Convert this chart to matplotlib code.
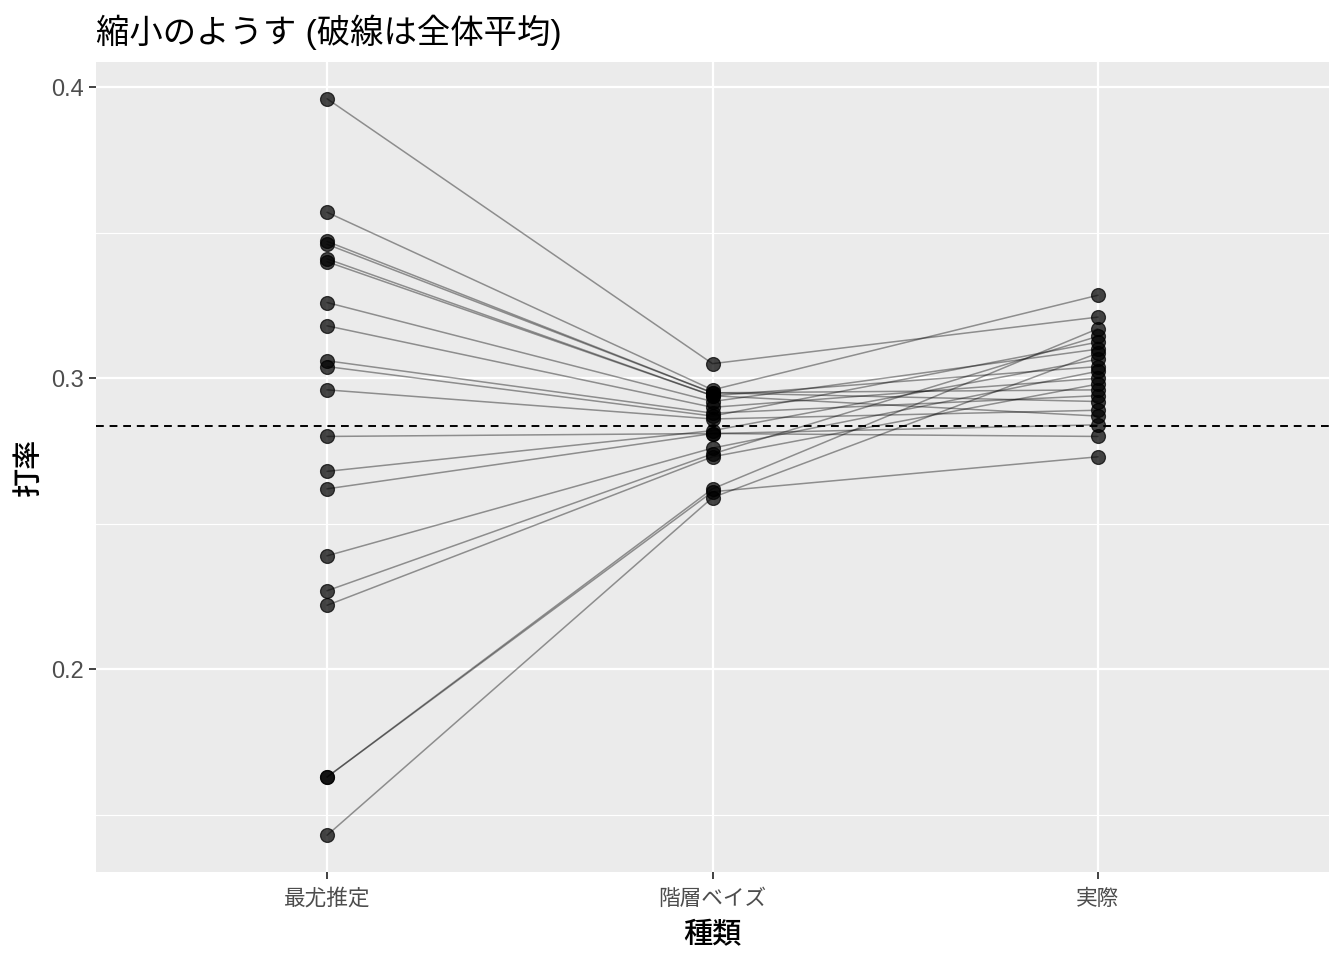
import matplotlib
matplotlib.use('Agg')
import matplotlib.pyplot as plt
import numpy as np
from matplotlib.ticker import MultipleLocator

plt.rcParams['font.family'] = ['Liberation Sans', 'Noto Sans CJK JP', 'DejaVu Sans']

categories = ['最尤推定', '階層ベイズ', '実際']

# one value per player, in the same order in every list
mle = [0.396, 0.357, 0.347, 0.346, 0.341, 0.340, 0.326, 0.318, 0.306, 0.304,
       0.296, 0.280, 0.268, 0.262, 0.239, 0.227, 0.222, 0.163, 0.163, 0.143]
bayes = [0.305, 0.296, 0.295, 0.295, 0.294, 0.294, 0.292, 0.290, 0.288, 0.287,
         0.286, 0.281, 0.282, 0.281, 0.276, 0.274, 0.273, 0.262, 0.261, 0.259]
actual = [0.321, 0.3285, 0.296, 0.292, 0.304, 0.287, 0.310, 0.300, 0.294, 0.3124,
          0.289, 0.280, 0.3065, 0.284, 0.3024, 0.3144, 0.298, 0.317, 0.273, 0.3086]

overall_mean = 0.2835

fig = plt.figure(figsize=(13.44, 9.6), dpi=100)
ax = fig.add_axes([96 / 1344, 1 - 872 / 960, (1329 - 96) / 1344, (872 - 62) / 960])
ax.set_facecolor('#EBEBEB')
for s in ax.spines.values():
    s.set_visible(False)

x = np.arange(len(categories))
values = np.array([mle, bayes, actual])
for j in range(values.shape[1]):
    ax.plot(x, values[:, j], color='black', alpha=0.4, linewidth=1.1, zorder=3)
    ax.plot(x, values[:, j], 'o', markersize=10, markerfacecolor='black',
            markeredgecolor='black', markeredgewidth=0.9, alpha=0.72, zorder=4)

ax.axhline(overall_mean, color='black', linestyle=(0, (4, 3)), linewidth=1.4, zorder=5)

lo, hi = values.min(), values.max()
pad = (hi - lo) * 0.05
ax.set_ylim(lo - pad, hi + pad)
ax.set_xlim(-0.6, len(categories) - 0.4)

ax.set_xticks(x)
ax.set_xticklabels(categories)
ax.yaxis.set_major_locator(MultipleLocator(0.1))
ax.yaxis.set_minor_locator(MultipleLocator(0.05))
ax.set_yticks([0.2, 0.3, 0.4])
ax.set_yticklabels(['0.2', '0.3', '0.4'])
ax.grid(which='major', color='white', linewidth=1.6, zorder=1)
ax.grid(which='minor', axis='y', color='white', linewidth=0.8, zorder=1)
ax.set_axisbelow(True)
ax.tick_params(which='major', length=5, width=1.3, color='#333333', labelcolor='#4D4D4D')
ax.tick_params(axis='x', labelsize=15.6, pad=7)
ax.tick_params(axis='y', labelsize=17, pad=4)
ax.tick_params(which='minor', length=0)

ax.set_xlabel('種類', fontsize=21, color='black', labelpad=8, fontweight='medium')
ax.set_ylabel('打率', fontsize=21, color='black', labelpad=6, fontweight='medium')
ax.set_title('縮小のようす (破線は全体平均)', fontsize=24, loc='left', pad=14)

fig.savefig('out.png', dpi=100)
